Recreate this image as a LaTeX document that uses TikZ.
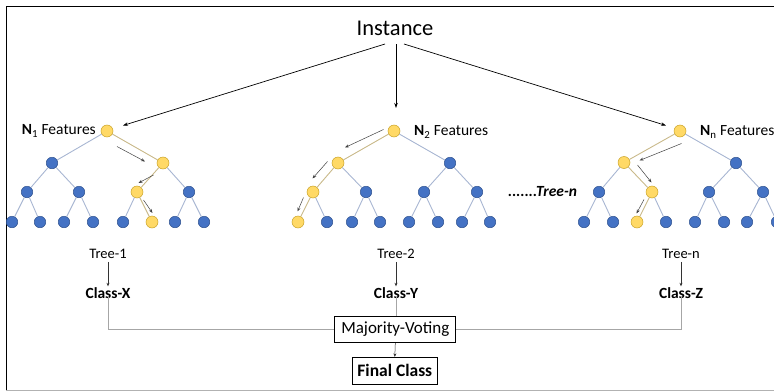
\documentclass[tikz,border=0pt]{standalone}
\usepackage{fontspec}
\setmainfont{Carlito}
\usetikzlibrary{arrows.meta}
\definecolor{nblue}{HTML}{4472C4}
\definecolor{nbluedark}{HTML}{2F528F}
\definecolor{nyel}{HTML}{FFD966}
\definecolor{nyeldark}{HTML}{C9A227}
\definecolor{eblue}{HTML}{A8B6D2}
\definecolor{eyel}{HTML}{C9B98A}
\definecolor{lgray}{HTML}{A6A6A6}
\tikzset{
  bn/.style={circle,fill=nblue,draw=nbluedark,line width=0.5pt,minimum size=11.5pt,inner sep=0pt},
  yn/.style={circle,fill=nyel,draw=nyeldark,line width=0.5pt,minimum size=12pt,inner sep=0pt},
  be/.style={draw=eblue,line width=0.9pt},
  ye/.style={draw=eyel,line width=0.9pt},
  pa/.style={draw=black!75,line width=0.5pt,-{Stealth[length=4pt,width=3pt]}},
  ia/.style={draw=black,line width=0.7pt,-{Stealth[length=5pt,width=3.5pt]}},
  feat/.style={font=\fontsize{15.5}{17}\selectfont,inner sep=0pt},
  lab/.style={font=\fontsize{14.5}{16}\selectfont,inner sep=1pt},
  cls/.style={font=\bfseries\fontsize{15.5}{17}\selectfont,inner sep=1pt},
  box/.style={draw=black,line width=0.9pt,inner sep=0pt,font=\fontsize{17}{19}\selectfont},
  gl/.style={draw=lgray,line width=0.9pt},
  sa/.style={draw=black!80,line width=0.5pt,-{Stealth[length=3.5pt,width=3pt]}}
}
\begin{document}
\begin{tikzpicture}[x=1pt,y=-1pt]
\useasboundingbox (0,0) rectangle (774,391);
% frame
\draw[line width=1pt] (6.3,391) -- (6.3,6) -- (774,6);
\draw[draw=black!30,line width=1pt] (6.3,390) -- (774,390);

% Instance
\node[font=\fontsize{22.5}{26}\selectfont,inner sep=0pt] (inst) at (395,28) {Instance};
\coordinate (s1) at (385,44);
\coordinate (s2) at (396,44);
\coordinate (s3) at (404,44);
\coordinate (e1) at (123,125.5);
\coordinate (e2) at (396,108);
\coordinate (e3) at (666,125.5);
\draw[ia] (s1) -- (e1);
\draw[ia] (s2) -- (e2);
\draw[ia] (s3) -- (e3);

% ---------- Tree 1 ----------
\node[yn] (a1) at (107,131) {};
\node[bn] (a2) at (52,163) {};
\node[yn] (a3) at (163,163) {};
\node[bn] (a4) at (27,192) {};
\node[bn] (a5) at (79,192) {};
\node[yn] (a6) at (137,192) {};
\node[bn] (a7) at (189,192) {};
\node[bn] (a8) at (12,222) {};
\node[bn] (a9) at (40,222) {};
\node[bn] (a10) at (64,222) {};
\node[bn] (a11) at (93,222) {};
\node[bn] (a12) at (123,222) {};
\node[yn] (a13) at (152,222) {};
\node[bn] (a14) at (175,222) {};
\node[bn] (a15) at (204,222) {};
\draw[be] (a1) -- (a2);
\draw[ye] (a1) -- (a3);
\draw[be] (a2) -- (a4); \draw[be] (a2) -- (a5);
\draw[ye] (a3) -- (a6); \draw[be] (a3) -- (a7);
\draw[be] (a4) -- (a8); \draw[be] (a4) -- (a9);
\draw[be] (a5) -- (a10); \draw[be] (a5) -- (a11);
\draw[be] (a6) -- (a12); \draw[ye] (a6) -- (a13);
\draw[be] (a7) -- (a14); \draw[be] (a7) -- (a15);
\node[feat,anchor=east] (f1) at (96,131) {\textbf{N}\textsubscript{1} Features};
\coordinate (p1a) at (117,146.5); \coordinate (p1b) at (145,161.5);
\coordinate (p1c) at (153.5,175); \coordinate (p1d) at (138.5,183);
\coordinate (p1e) at (143.5,200); \coordinate (p1f) at (152.5,213);
\draw[pa] (p1a) -- (p1b);
\draw[pa] (p1c) -- (p1d);
\draw[pa] (p1e) -- (p1f);

% ---------- Tree 2 ----------
\node[yn] (b1) at (394,131) {};
\node[yn] (b2) at (338,163) {};
\node[bn] (b3) at (450,163) {};
\node[yn] (b4) at (313,192) {};
\node[bn] (b5) at (366,192) {};
\node[bn] (b6) at (424,192) {};
\node[bn] (b7) at (477,192) {};
\node[yn] (b8) at (298,222) {};
\node[bn] (b9) at (327,222) {};
\node[bn] (b10) at (352,222) {};
\node[bn] (b11) at (380,222) {};
\node[bn] (b12) at (409,222) {};
\node[bn] (b13) at (438,222) {};
\node[bn] (b14) at (462,222) {};
\node[bn] (b15) at (490,222) {};
\draw[ye] (b1) -- (b2);
\draw[be] (b1) -- (b3);
\draw[ye] (b2) -- (b4); \draw[be] (b2) -- (b5);
\draw[be] (b3) -- (b6); \draw[be] (b3) -- (b7);
\draw[ye] (b4) -- (b8); \draw[be] (b4) -- (b9);
\draw[be] (b5) -- (b10); \draw[be] (b5) -- (b11);
\draw[be] (b6) -- (b12); \draw[be] (b6) -- (b13);
\draw[be] (b7) -- (b14); \draw[be] (b7) -- (b15);
\node[feat,anchor=west] (f2) at (414,132) {\textbf{N}\textsubscript{2} Features};
\coordinate (p2a) at (383.5,129.5); \coordinate (p2b) at (345,147.5);
\coordinate (p2c) at (327.5,161.5); \coordinate (p2d) at (312.5,178.5);
\coordinate (p2e) at (303.5,197.5); \coordinate (p2f) at (297.5,211.5);
\draw[pa] (p2a) -- (p2b);
\draw[pa] (p2c) -- (p2d);
\draw[pa] (p2e) -- (p2f);

% ---------- Tree n ----------
\node[yn] (c1) at (680,131) {};
\node[yn] (c2) at (624,162.5) {};
\node[bn] (c3) at (736,163) {};
\node[bn] (c4) at (599,192) {};
\node[yn] (c5) at (652,192) {};
\node[bn] (c6) at (709,192) {};
\node[bn] (c7) at (763,192) {};
\node[bn] (c8) at (584,222) {};
\node[bn] (c9) at (613,222) {};
\node[yn] (c10) at (637,222) {};
\node[bn] (c11) at (666,222) {};
\node[bn] (c12) at (695,222) {};
\node[bn] (c13) at (724,222) {};
\node[bn] (c14) at (747,222) {};
\node[bn] (c15) at (777,222) {};
\draw[ye] (c1) -- (c2);
\draw[be] (c1) -- (c3);
\draw[be] (c2) -- (c4); \draw[ye] (c2) -- (c5);
\draw[be] (c3) -- (c6); \draw[be] (c3) -- (c7);
\draw[be] (c4) -- (c8); \draw[be] (c4) -- (c9);
\draw[ye] (c5) -- (c10); \draw[be] (c5) -- (c11);
\draw[be] (c6) -- (c12); \draw[be] (c6) -- (c13);
\draw[be] (c7) -- (c14); \draw[be] (c7) -- (c15);
\node[feat,anchor=west] (f3) at (700,132) {\textbf{N}\textsubscript{n} Features};
\coordinate (p3a) at (681.5,143.5); \coordinate (p3b) at (639.5,160.5);
\coordinate (p3c) at (637.5,165); \coordinate (p3d) at (651.5,182.5);
\coordinate (p3e) at (644,199.5); \coordinate (p3f) at (636.5,213.5);
\draw[pa] (p3a) -- (p3b);
\draw[pa] (p3c) -- (p3d);
\draw[pa] (p3e) -- (p3f);
\node[font=\bfseries\itshape\fontsize{15.5}{17}\selectfont,anchor=west,inner sep=0pt] (tn) at (508,192) {.......Tree-n};

% ---------- bottom ----------
\node[lab] (t1) at (108,254) {Tree-1};
\node[lab] (t2) at (396,254) {Tree-2};
\node[lab] (t3) at (681,254) {Tree-n};
\node[cls] (cx) at (108,293) {Class-X};
\node[cls] (cy) at (396,293) {Class-Y};
\node[cls] (cz) at (681,293) {Class-Z};
\draw[sa,shorten <=2pt] (t1) -- (cx);
\draw[sa,shorten <=2pt] (t2) -- (cy);
\draw[sa,shorten <=2pt] (t3) -- (cz);
\node[box,minimum width=121pt,minimum height=26.5pt] (mv) at (395.3,329.3) {Majority-Voting};
\node[box,minimum width=85pt,minimum height=27pt,font=\bfseries\fontsize{17.5}{19}\selectfont] (fc) at (394.8,370.8) {Final Class};
\draw[gl] ([yshift=3pt]cx.south) |- (mv.west);
\draw[gl] ([yshift=3pt]cz.south) |- (mv.east);
\draw[gl] ([yshift=3pt]cy.south) -- (cy.south |- mv.north);
\draw[sa] (mv.south) -- (fc.north);
\end{tikzpicture}
\end{document}
